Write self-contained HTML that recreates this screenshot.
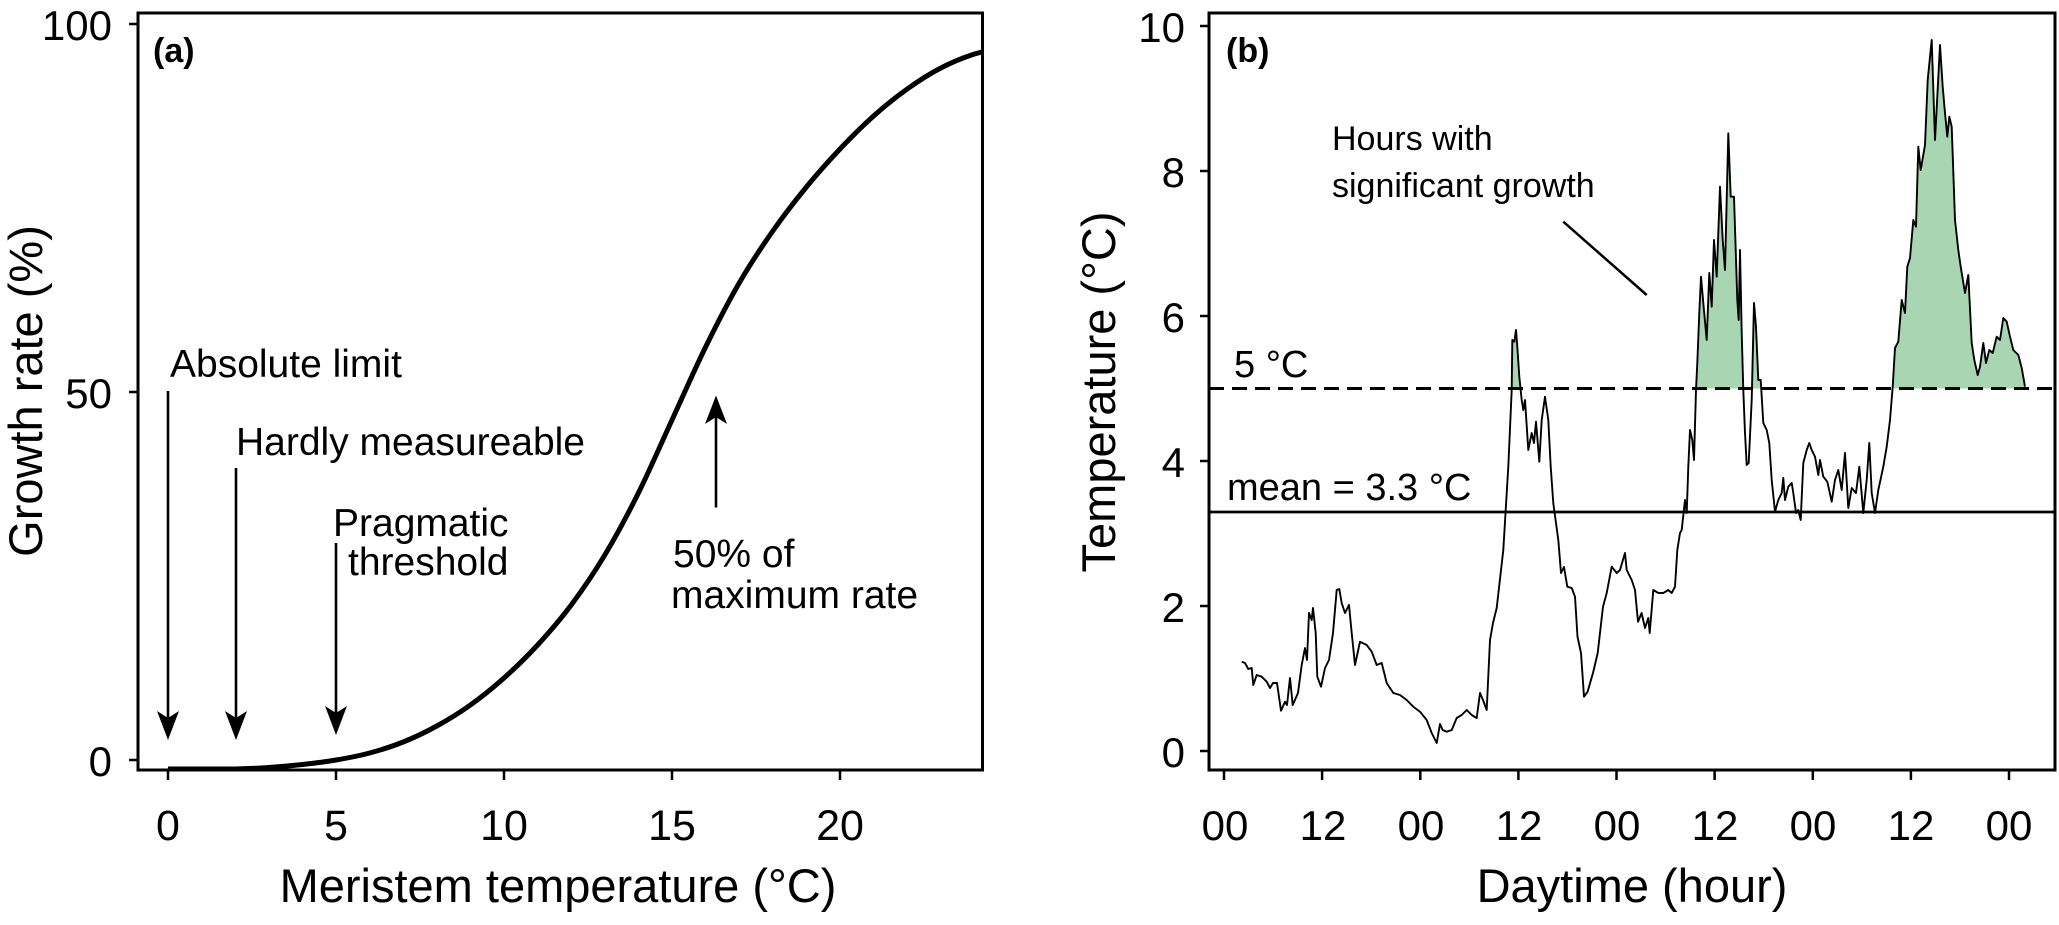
<!DOCTYPE html>
<html>
<head>
<meta charset="utf-8">
<style>
html,body{margin:0;padding:0;background:#fff;}
svg{display:block;}
text{font-family:"Liberation Sans",Arial,Helvetica,sans-serif;fill:#000;}
</style>
</head>
<body>
<svg width="2059" height="925" viewBox="0 0 2059 925" xmlns="http://www.w3.org/2000/svg">
<rect x="0" y="0" width="2059" height="925" fill="#fff"/>

<!-- ================= PANEL A ================= -->
<!-- curve -->
<path fill="none" stroke="#000" stroke-width="5" stroke-linejoin="round"
d="M168,769 L235.2,769
C246.4,768.75 257.6,768.25 268.8,767.5
C280,766.75 291.2,765.75 302.4,764.5
C313.6,763.25 324.8,761.92 336,760
C347.2,758.08 358.4,756 369.6,753
C380.8,750 392,746.5 403.2,742
C414.4,737.5 425.6,732.17 436.8,726
C448,719.83 459.2,713 470.4,705
C481.6,697 492.8,688 504,678
C515.2,668 526.4,657.17 537.6,645
C548.8,632.83 560,620 571.2,605
C582.4,590 593.6,573.67 604.8,555
C616,536.33 627.2,515.5 638.4,493
C649.6,470.5 660.8,444.33 672,420
C683.2,395.67 694.4,369.83 705.6,347
C716.8,324.17 728,302.33 739.2,283
C750.4,263.67 761.6,247 772.8,231
C784,215 795.2,200.67 806.4,187
C817.6,173.33 828.8,160.83 840,149
C851.2,137.17 862.4,126 873.6,116
C884.8,106 896,97 907.2,89
C918.4,81 929.6,73.83 940.8,68
C952,62.17 963.2,57.67 974.4,54
L982,52"/>

<!-- box a -->
<rect x="138" y="13" width="844.5" height="757" fill="none" stroke="#000" stroke-width="3"/>

<!-- y ticks a -->
<g stroke="#000" stroke-width="2.5">
<line x1="129" y1="24" x2="138" y2="24"/>
<line x1="129" y1="392" x2="138" y2="392"/>
<line x1="129" y1="760" x2="138" y2="760"/>
</g>
<g font-size="42" text-anchor="end">
<text x="112" y="40">100</text>
<text x="112" y="408">50</text>
<text x="112" y="776">0</text>
</g>

<!-- x ticks a -->
<g stroke="#000" stroke-width="2.5">
<line x1="168" y1="770" x2="168" y2="780"/>
<line x1="336" y1="770" x2="336" y2="780"/>
<line x1="504" y1="770" x2="504" y2="780"/>
<line x1="672" y1="770" x2="672" y2="780"/>
<line x1="840" y1="770" x2="840" y2="780"/>
</g>
<g font-size="43" text-anchor="middle">
<text x="168" y="840">0</text>
<text x="336" y="840">5</text>
<text x="504" y="840">10</text>
<text x="672" y="840">15</text>
<text x="840" y="840">20</text>
</g>

<text x="558" y="902" font-size="47" text-anchor="middle">Meristem temperature (°C)</text>
<text transform="translate(42,391) rotate(-90)" font-size="47" text-anchor="middle">Growth rate (%)</text>

<text x="153" y="62" font-size="34" font-weight="bold">(a)</text>

<!-- annotations a -->
<g font-size="39">
<text x="170" y="377">Absolute limit</text>
<text x="236" y="455">Hardly measureable</text>
<text x="333" y="536">Pragmatic</text>
<text x="348" y="575">threshold</text>
<text x="673" y="567">50% of</text>
<text x="671" y="608">maximum rate</text>
</g>

<!-- arrows a -->
<g stroke="#000" stroke-width="2.6">
<line x1="168" y1="391" x2="168" y2="722"/>
<line x1="236" y1="468" x2="236" y2="722"/>
<line x1="336" y1="543" x2="336" y2="717"/>
<line x1="716" y1="507.5" x2="716" y2="414"/>
</g>
<g fill="#000">
<path d="M168,740 L157,711 L168,718 L179,711 Z"/>
<path d="M236,740 L225,711 L236,718 L247,711 Z"/>
<path d="M336,735 L325,706 L336,713 L347,706 Z"/>
<path d="M716,395.5 L705,424 L716,417 L727,424 Z"/>
</g>

<!-- ================= PANEL B ================= -->
<defs>
<clipPath id="above5">
<rect x="1209" y="0" width="846" height="388.5"/>
</clipPath>
</defs>

<!-- green fill -->
<polygon clip-path="url(#above5)" fill="#a9d6b2" stroke="none"
points="1241.7,661.7 1245,663 1248.3,669 1251.7,668 1253.3,685 1256.7,675 1261.7,676.7 1266.7,681.7 1270,688 1273,683 1277,683 1281,710.7 1285,701.7 1287,705 1290,678 1292.7,705 1298,693 1301.7,665 1305,648 1307,660 1309,613 1311.7,620 1313,608 1315.7,633 1317.3,676.7 1321,686.7 1325,668 1329,660 1333,633 1336.7,590 1339.3,589 1341.7,603 1345,613 1349,605 1351.7,633 1355,665 1360,641.7 1366.7,645 1371.7,651.7 1376.7,665 1381.7,663 1386.7,683 1393.3,693 1400,695 1406.7,700 1413.3,706.7 1420,711.7 1426.7,720 1431.7,733 1436.7,743 1440,724 1442.7,730 1446.7,731.7 1451.7,730 1456.7,718 1461.7,715 1466.7,710 1471.7,715 1476.7,718 1480,693 1483,700 1486.7,710 1490,640 1493,623 1496.7,608 1503.3,550 1508.3,466.7 1511.7,390 1512.3,340 1514.3,341.7 1516,330 1517.3,346.7 1519.3,376.7 1521.7,400 1523.3,410 1525,400 1528.3,450 1531.7,433 1534,443 1536,421.7 1539.3,461.7 1541.7,420 1545,396.7 1548.3,420 1550.7,466.7 1553.3,503.3 1558.3,540 1561,573 1564,567 1567.3,586.7 1571.7,588 1575,596.7 1577.5,636.7 1581,653 1584,696.7 1587.6,691.7 1593,673 1597.7,653 1603,606.7 1606.7,593 1611.7,566.7 1616.7,573 1620,570 1625,553 1626.7,570 1631.7,580 1635,590 1638,621.7 1641.6,613 1645,628 1648.3,618 1649.7,633 1653.3,590 1658.3,593 1663.3,593 1668.3,590 1671.7,593 1675,586.7 1677.3,550 1680,533 1681.7,530 1685,500 1686.7,513 1688.3,466.7 1690,430 1692.3,440 1694,460 1696,390 1697.3,363 1699.3,313 1701,276.7 1703.3,303 1706.7,340 1709.3,273 1711.7,306.7 1714,240 1716.7,276.7 1720,186.7 1722.7,240 1725,270 1728.3,133.3 1730.7,196.7 1734,196.7 1737.3,300 1738.7,320 1740,250 1741.7,333 1743.3,390 1745,433 1746.7,465 1748.7,463 1751.7,400 1754,303 1756,327 1758.3,380 1760.7,380 1763.3,423 1766.7,430 1769.3,443 1771.7,480 1775,511.7 1778.3,500 1781.7,493 1783.3,478 1785,500 1788.3,486.7 1791.7,483 1793.3,493 1796,513 1798.3,510 1800.7,520 1803.3,463 1806.7,450 1809.3,443 1811.7,450 1815,456.7 1818.3,475 1820,460 1823.3,476.7 1827.3,481.7 1831.7,501.7 1835,480 1838.3,470 1841.7,490 1845,453 1848.3,508 1851.7,488 1856,493 1859.3,466.7 1863.3,513 1866.7,480 1869.3,443 1871.7,493 1875,513 1878.3,490 1883.3,466.7 1886.7,446.7 1890,420 1892.7,386.7 1895,348 1898.3,341.7 1901.7,300 1905,313 1907.3,266.7 1910,258 1913.3,220 1916,226.7 1918.3,146.7 1920.7,170 1925,145 1927.7,80 1931.7,40 1935,140 1937.3,96.7 1940,45 1942.7,86.7 1945,113 1947.3,136.7 1949.3,116.7 1951.7,126.7 1955,220 1958.3,250 1960.7,266.7 1965,293 1968.3,275 1971.7,343 1974.3,360 1977.7,375 1980,366.7 1983.3,343 1986,363 1989.3,350 1992.7,353 1996.7,336.7 2000,340 2003.3,318 2006.7,321.7 2010,336.7 2013.3,350 2018.3,355 2021.7,368 2025,386.7 2025,388.5 1241.7,388.5"/>

<!-- reference lines -->
<line x1="1209" y1="388.5" x2="2055" y2="388.5" stroke="#000" stroke-width="3" stroke-dasharray="15 8"/>
<line x1="1209" y1="512" x2="2055" y2="512" stroke="#000" stroke-width="2.7"/>

<!-- series -->
<polyline fill="none" stroke="#000" stroke-width="1.9" stroke-linejoin="round"
points="1241.7,661.7 1245,663 1248.3,669 1251.7,668 1253.3,685 1256.7,675 1261.7,676.7 1266.7,681.7 1270,688 1273,683 1277,683 1281,710.7 1285,701.7 1287,705 1290,678 1292.7,705 1298,693 1301.7,665 1305,648 1307,660 1309,613 1311.7,620 1313,608 1315.7,633 1317.3,676.7 1321,686.7 1325,668 1329,660 1333,633 1336.7,590 1339.3,589 1341.7,603 1345,613 1349,605 1351.7,633 1355,665 1360,641.7 1366.7,645 1371.7,651.7 1376.7,665 1381.7,663 1386.7,683 1393.3,693 1400,695 1406.7,700 1413.3,706.7 1420,711.7 1426.7,720 1431.7,733 1436.7,743 1440,724 1442.7,730 1446.7,731.7 1451.7,730 1456.7,718 1461.7,715 1466.7,710 1471.7,715 1476.7,718 1480,693 1483,700 1486.7,710 1490,640 1493,623 1496.7,608 1503.3,550 1508.3,466.7 1511.7,390 1512.3,340 1514.3,341.7 1516,330 1517.3,346.7 1519.3,376.7 1521.7,400 1523.3,410 1525,400 1528.3,450 1531.7,433 1534,443 1536,421.7 1539.3,461.7 1541.7,420 1545,396.7 1548.3,420 1550.7,466.7 1553.3,503.3 1558.3,540 1561,573 1564,567 1567.3,586.7 1571.7,588 1575,596.7 1577.5,636.7 1581,653 1584,696.7 1587.6,691.7 1593,673 1597.7,653 1603,606.7 1606.7,593 1611.7,566.7 1616.7,573 1620,570 1625,553 1626.7,570 1631.7,580 1635,590 1638,621.7 1641.6,613 1645,628 1648.3,618 1649.7,633 1653.3,590 1658.3,593 1663.3,593 1668.3,590 1671.7,593 1675,586.7 1677.3,550 1680,533 1681.7,530 1685,500 1686.7,513 1688.3,466.7 1690,430 1692.3,440 1694,460 1696,390 1697.3,363 1699.3,313 1701,276.7 1703.3,303 1706.7,340 1709.3,273 1711.7,306.7 1714,240 1716.7,276.7 1720,186.7 1722.7,240 1725,270 1728.3,133.3 1730.7,196.7 1734,196.7 1737.3,300 1738.7,320 1740,250 1741.7,333 1743.3,390 1745,433 1746.7,465 1748.7,463 1751.7,400 1754,303 1756,327 1758.3,380 1760.7,380 1763.3,423 1766.7,430 1769.3,443 1771.7,480 1775,511.7 1778.3,500 1781.7,493 1783.3,478 1785,500 1788.3,486.7 1791.7,483 1793.3,493 1796,513 1798.3,510 1800.7,520 1803.3,463 1806.7,450 1809.3,443 1811.7,450 1815,456.7 1818.3,475 1820,460 1823.3,476.7 1827.3,481.7 1831.7,501.7 1835,480 1838.3,470 1841.7,490 1845,453 1848.3,508 1851.7,488 1856,493 1859.3,466.7 1863.3,513 1866.7,480 1869.3,443 1871.7,493 1875,513 1878.3,490 1883.3,466.7 1886.7,446.7 1890,420 1892.7,386.7 1895,348 1898.3,341.7 1901.7,300 1905,313 1907.3,266.7 1910,258 1913.3,220 1916,226.7 1918.3,146.7 1920.7,170 1925,145 1927.7,80 1931.7,40 1935,140 1937.3,96.7 1940,45 1942.7,86.7 1945,113 1947.3,136.7 1949.3,116.7 1951.7,126.7 1955,220 1958.3,250 1960.7,266.7 1965,293 1968.3,275 1971.7,343 1974.3,360 1977.7,375 1980,366.7 1983.3,343 1986,363 1989.3,350 1992.7,353 1996.7,336.7 2000,340 2003.3,318 2006.7,321.7 2010,336.7 2013.3,350 2018.3,355 2021.7,368 2025,386.7"/>

<!-- box b -->
<rect x="1209" y="13" width="846" height="757" fill="none" stroke="#000" stroke-width="3"/>

<!-- y ticks b -->
<g stroke="#000" stroke-width="2.5">
<line x1="1200" y1="751" x2="1209" y2="751"/>
<line x1="1200" y1="606" x2="1209" y2="606"/>
<line x1="1200" y1="461" x2="1209" y2="461"/>
<line x1="1200" y1="316" x2="1209" y2="316"/>
<line x1="1200" y1="171" x2="1209" y2="171"/>
<line x1="1200" y1="26" x2="1209" y2="26"/>
</g>
<g font-size="42" text-anchor="end">
<text x="1185" y="767">0</text>
<text x="1185" y="622">2</text>
<text x="1185" y="477">4</text>
<text x="1185" y="332">6</text>
<text x="1185" y="187">8</text>
<text x="1185" y="42">10</text>
</g>

<!-- x ticks b -->
<g stroke="#000" stroke-width="2.5">
<line x1="1224" y1="770" x2="1224" y2="780"/>
<line x1="1322.1" y1="770" x2="1322.1" y2="780"/>
<line x1="1420.3" y1="770" x2="1420.3" y2="780"/>
<line x1="1518.4" y1="770" x2="1518.4" y2="780"/>
<line x1="1616.5" y1="770" x2="1616.5" y2="780"/>
<line x1="1714.6" y1="770" x2="1714.6" y2="780"/>
<line x1="1812.8" y1="770" x2="1812.8" y2="780"/>
<line x1="1910.9" y1="770" x2="1910.9" y2="780"/>
<line x1="2009" y1="770" x2="2009" y2="780"/>
</g>
<g font-size="42" text-anchor="middle">
<text x="1225" y="840">00</text>
<text x="1323" y="840">12</text>
<text x="1421" y="840">00</text>
<text x="1519" y="840">12</text>
<text x="1617" y="840">00</text>
<text x="1715" y="840">12</text>
<text x="1813" y="840">00</text>
<text x="1911" y="840">12</text>
<text x="2009" y="840">00</text>
</g>

<text x="1632" y="902" font-size="47" text-anchor="middle">Daytime (hour)</text>
<text transform="translate(1115,392) rotate(-90)" font-size="47" text-anchor="middle">Temperature (°C)</text>

<text x="1226" y="62" font-size="34" font-weight="bold">(b)</text>

<g font-size="38">
<text x="1234" y="377">5 °C</text>
<text x="1227" y="500">mean = 3.3 °C</text>
</g>
<g font-size="34">
<text x="1332" y="150">Hours with</text>
<text x="1332" y="197">significant growth</text>
</g>
<line x1="1563.3" y1="221.7" x2="1646.7" y2="295" stroke="#000" stroke-width="2.5"/>
</svg>
</body>
</html>
